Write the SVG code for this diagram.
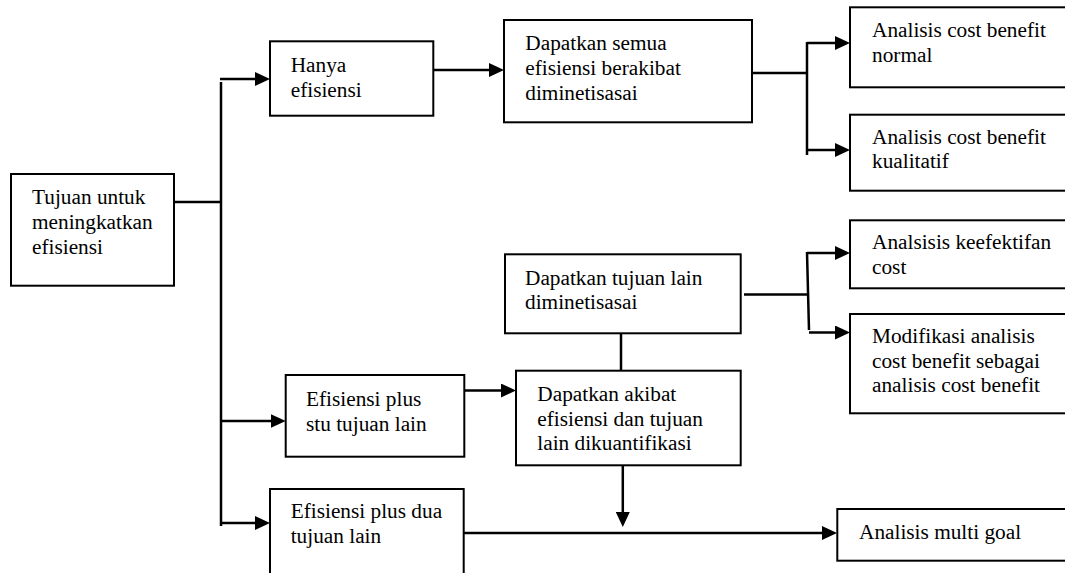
<svg xmlns="http://www.w3.org/2000/svg" width="1065" height="573" viewBox="0 0 1065 573">
  <style>
    .box { fill: #fff; stroke: #000; stroke-width: 2; }
    .lbl { font-family: "Liberation Serif", "Times New Roman", serif; font-size: 21.3px; fill: #000; }
    .wire { fill: none; stroke: #000; stroke-width: 2.5; }
    .arrow { marker-end: url(#head); }
  </style>
  <defs>
    <marker id="head" markerUnits="userSpaceOnUse" markerWidth="15" markerHeight="14" refX="7" refY="7" orient="auto">
      <path d="M0,0 L15,7 L0,14 Z" fill="#000"/>
    </marker>
  </defs>
  <rect width="1065" height="573" fill="#fff"/>

  <!-- connectors -->
  <g id="connectors">
    <path class="wire" d="M174,202 H221"/>
    <path class="wire" d="M221,82 V526"/>
    <path class="wire arrow" d="M220,79 H262"/>
    <path class="wire arrow" d="M221,421 H277.7"/>
    <path class="wire arrow" d="M221,523 H262"/>
    <path class="wire arrow" d="M433,70 H496"/>
    <path class="wire" d="M752,73 H807"/>
    <path class="wire" d="M807,42 V155"/>
    <path class="wire arrow" d="M807,43 H842"/>
    <path class="wire arrow" d="M807,150 H842"/>
    <path class="wire" d="M744,294.5 H808"/>
    <path class="wire" d="M807,252 L809,330"/>
    <path class="wire arrow" d="M807,253 H842"/>
    <path class="wire arrow" d="M809,332.5 H842"/>
    <path class="wire" d="M621,333 V371"/>
    <path class="wire arrow" d="M464,390.5 H508"/>
    <path class="wire arrow" d="M622.8,465 V519"/>
    <path class="wire arrow" d="M464,533 H829"/>
  </g>

  <!-- nodes -->
  <g id="tujuan">
    <rect class="box" x="11" y="174" width="163" height="111.7"/>
    <text class="lbl" x="32" y="204.3">Tujuan untuk</text>
    <text class="lbl" x="32" y="229.3">meningkatkan</text>
    <text class="lbl" x="32" y="254">efisiensi</text>
  </g>
  <g id="hanya">
    <rect class="box" x="270" y="41.3" width="163.3" height="74.4"/>
    <text class="lbl" x="290.7" y="72.3">Hanya</text>
    <text class="lbl" x="290.7" y="97.3">efisiensi</text>
  </g>
  <g id="semua">
    <rect class="box" x="504" y="20" width="248" height="102.3"/>
    <text class="lbl" x="525.3" y="50">Dapatkan semua</text>
    <text class="lbl" x="525.3" y="75">efisiensi berakibat</text>
    <text class="lbl" x="525.3" y="100">diminetisasai</text>
  </g>
  <g id="normal">
    <rect class="box" x="850" y="7.3" width="230" height="80"/>
    <text class="lbl" x="872" y="37">Analisis cost benefit</text>
    <text class="lbl" x="872" y="62">normal</text>
  </g>
  <g id="kualitatif">
    <rect class="box" x="850" y="114.7" width="230" height="76"/>
    <text class="lbl" x="872" y="144">Analisis cost benefit</text>
    <text class="lbl" x="872" y="168.3">kualitatif</text>
  </g>
  <g id="keefektifan">
    <rect class="box" x="850" y="220.3" width="230" height="68"/>
    <text class="lbl" x="872" y="249.3">Analsisis keefektifan</text>
    <text class="lbl" x="872" y="274.3">cost</text>
  </g>
  <g id="modifikasi">
    <rect class="box" x="850" y="314" width="230" height="99.3"/>
    <text class="lbl" x="872" y="343.3">Modifikasi analisis</text>
    <text class="lbl" x="872" y="368.3">cost benefit sebagai</text>
    <text class="lbl" x="872" y="392.3">analisis cost benefit</text>
  </g>
  <g id="tujuan-lain">
    <rect class="box" x="505" y="254.3" width="235.7" height="79"/>
    <text class="lbl" x="525" y="285">Dapatkan tujuan lain</text>
    <text class="lbl" x="525" y="309.3">diminetisasai</text>
  </g>
  <g id="akibat">
    <rect class="box" x="516" y="370.7" width="224.7" height="94.6"/>
    <text class="lbl" x="537.3" y="400.5">Dapatkan akibat</text>
    <text class="lbl" x="537.3" y="425.5">efisiensi dan tujuan</text>
    <text class="lbl" x="537.3" y="450">lain dikuantifikasi</text>
  </g>
  <g id="stu">
    <rect class="box" x="285.7" y="375" width="178.6" height="81.7"/>
    <text class="lbl" x="306" y="405.7">Efisiensi plus</text>
    <text class="lbl" x="306" y="430.7">stu tujuan lain</text>
  </g>
  <g id="dua">
    <rect class="box" x="270" y="489" width="193.7" height="100"/>
    <text class="lbl" x="290.7" y="517.7">Efisiensi plus dua</text>
    <text class="lbl" x="290.7" y="542.7">tujuan lain</text>
  </g>
  <g id="multi-goal">
    <rect class="box" x="837.3" y="509" width="242.7" height="51.7"/>
    <text class="lbl" x="859" y="539.3">Analisis multi goal</text>
  </g>
</svg>
